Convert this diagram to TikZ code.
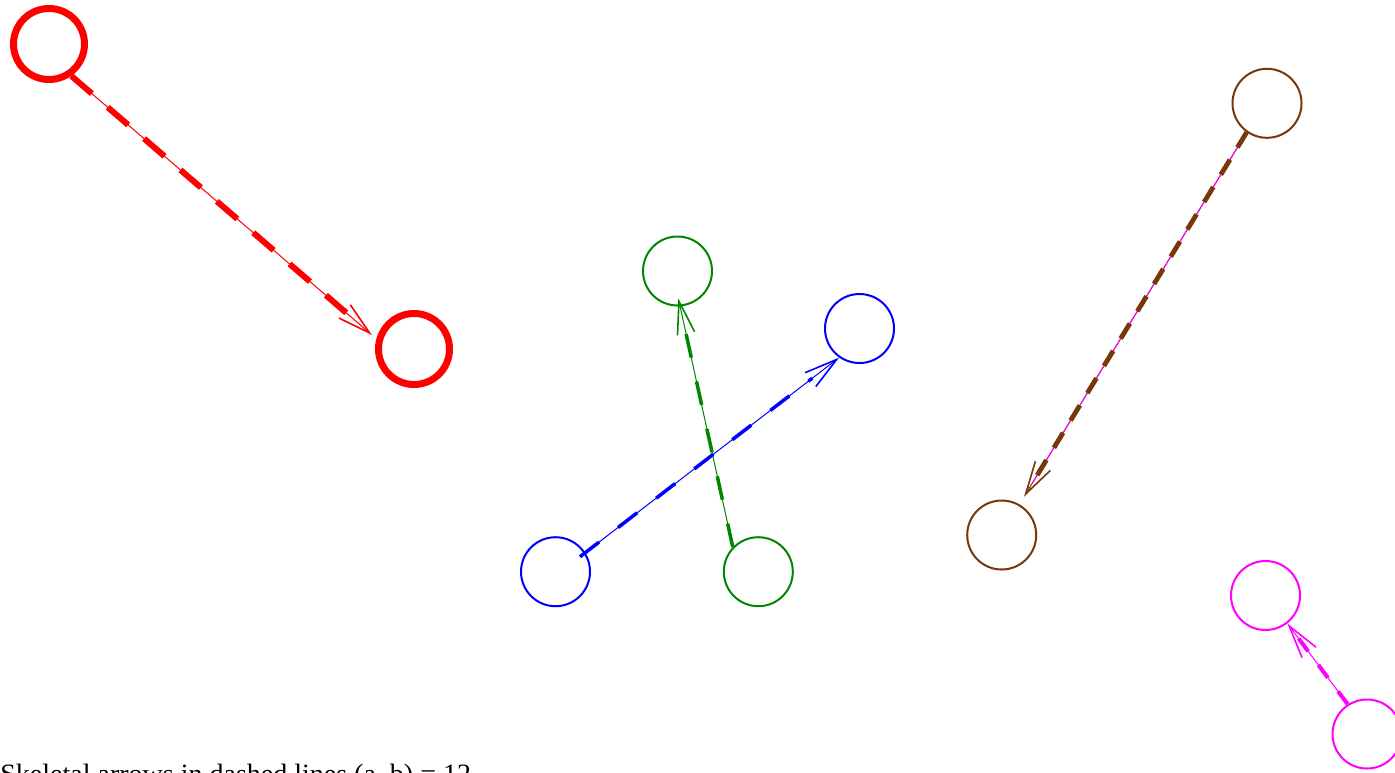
\documentclass[tikz,border=0pt]{standalone}
\usepackage{fontspec}
\setmainfont{Liberation Serif}
\usetikzlibrary{arrows.meta}
\definecolor{brn}{RGB}{120,55,10}
\definecolor{grn}{RGB}{0,135,0}
\definecolor{mag}{RGB}{255,0,255}
\definecolor{rd}{RGB}{255,0,0}
\definecolor{bl}{RGB}{0,0,255}
\begin{document}
\begin{tikzpicture}[x=0.5pt,y=-0.5pt,
  thinnode/.style={circle,draw,line width=1pt,minimum size=34.5pt,inner sep=0pt},
  rednode/.style={circle,draw=rd,line width=3.5pt,minimum size=35.5pt,inner sep=0pt},
  tipped/.style={line width=0.5pt,-{Straight Barb[length=16.5pt,width=8.75pt,line width=0.8pt]}},
  overlay dash/.style={line width=#1,line cap=butt},
]
\useasboundingbox (0,0) rectangle (1395,772);

% nodes
\node[rednode] (r1) at (49,44) {};
\node[rednode] (r2) at (414,349) {};
\node[thinnode,draw=grn] (g1) at (677.5,271) {};
\node[thinnode,draw=grn] (g2) at (758.3,571.7) {};
\node[thinnode,draw=bl] (b1) at (555.5,571.7) {};
\node[thinnode,draw=bl] (b2) at (859.5,328.5) {};
\node[thinnode,draw=brn] (n1) at (1267,103.3) {};
\node[thinnode,draw=brn] (n2) at (1001.7,535) {};
\node[thinnode,draw=mag] (m1) at (1265.5,595.5) {};
\node[thinnode,draw=mag] (m2) at (1367,734) {};

% free ends
\coordinate (rt) at (372,335);
\coordinate (gt) at (678.3,298.3);
\coordinate (bs) at (580,556.7);
\coordinate (nt) at (1024,496.7);

% red
\draw[tipped,rd] (r1.-55) -- (rt);
\draw[overlay dash=3pt,rd,dash pattern=on 13.5pt off 10.5pt,shorten >=17pt] (r1.-55) -- (rt);
% green
\draw[tipped,grn] (g2.136) -- (gt);
\draw[overlay dash=1.75pt,grn,dash pattern=on 12pt off 12.25pt,shorten >=17pt] (g2.136) -- (gt);
% blue
\draw[tipped,bl] (bs) -- (b2.235);
\draw[overlay dash=1.75pt,bl,dash pattern=on 12pt off 12pt,shorten >=17pt] (bs) -- (b2.235);
% brown
\draw[tipped,brn] (n1.235) -- (nt);
\draw[line width=0.5pt,mag,shorten >=8pt] (n1.235) -- (nt);
\draw[overlay dash=2.4pt,brn,dash pattern=on 8.8pt off 7.2pt,shorten >=5pt] (n1.235) -- (nt);
% magenta
\draw[tipped,mag] (m2.123) -- (m1.-52);
\draw[overlay dash=2pt,mag,dash pattern=on 8pt off 8.5pt,shorten >=4pt] (m2.123) -- (m1.-52);

% caption, cut off at the bottom edge as in the reference
\node[anchor=base west,inner sep=0pt,font=\fontsize{14}{16}\selectfont] (cap) at (0,783) {Skeletal arrows in dashed lines (a, b) = 12};
\end{tikzpicture}
\end{document}
